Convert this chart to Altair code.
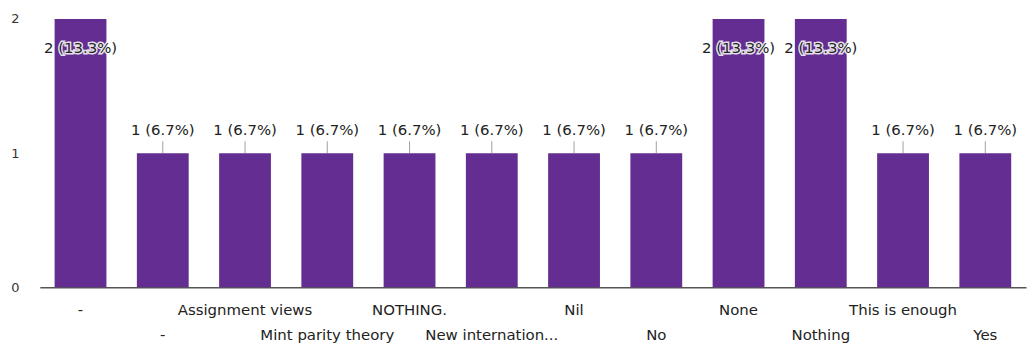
import altair as alt
import pandas as pd

categories = ["-", "- ", "Assignment views", "Mint parity theory", "NOTHING.",
              "New internation...", "Nil", "No", "None", "Nothing",
              "This is enough", "Yes"]
counts = [2, 1, 1, 1, 1, 1, 1, 1, 2, 2, 1, 1]
labels = ["2 (13.3%)", "1 (6.7%)", "1 (6.7%)", "1 (6.7%)", "1 (6.7%)",
          "1 (6.7%)", "1 (6.7%)", "1 (6.7%)", "2 (13.3%)", "2 (13.3%)",
          "1 (6.7%)", "1 (6.7%)"]
y_ticks = [0, 1, 2]

df = pd.DataFrame({"cat": categories, "count": counts, "label": labels})

FONT = "DejaVu Sans"
PURPLE = "#642d91"

x = alt.X("cat:N", sort=categories, title=None,
          scale=alt.Scale(paddingInner=0.37, paddingOuter=0.18),
          axis=alt.Axis(labelAngle=0, ticks=False, domain=True, domainColor="#555",
                        domainWidth=1.5, grid=False, labelFont=FONT, labelFontSize=15,
                        labelColor="#222", labelPadding=15, labelLineHeight=25,
                        labelBaseline="top", labelLimit=300, labelOverlap=False,
                        labelExpr="round(datum.index*11) % 2 ? ['', datum.label] : datum.label"))
y = alt.Y("count:Q", title=None,
          scale=alt.Scale(domain=[0, 2], nice=False),
          axis=alt.Axis(values=y_ticks, labelExpr="'' + round(datum.value)",
                        ticks=False, domain=False, grid=False,
                        labelFont=FONT, labelFontSize=13, labelColor="#333",
                        labelOverlap=False, labelFlush=False,
                        labelPadding=21, minExtent=32, maxExtent=32))

base = alt.Chart(df)

bars = base.mark_bar(color=PURPLE).encode(x=x, y=y)

low = base.transform_filter("datum.count < 2")
high = base.transform_filter("datum.count >= 2")

leader = low.mark_tick(orient="vertical", size=12, thickness=1, color="#777",
                       yOffset=-6).encode(x=x, y=y)

low_text = low.mark_text(font=FONT, fontSize=15, color="#222", dy=-23,
                         baseline="middle").encode(x=x, y=y, text="label:N")

high_halo = high.mark_text(font=FONT, fontSize=15, color="white", stroke="white",
                           strokeWidth=3, strokeOpacity=0.85, dy=29,
                           baseline="middle").encode(x=x, y=y, text="label:N")
high_text = high.mark_text(font=FONT, fontSize=15, color="#222", dy=29,
                           baseline="middle").encode(x=x, y=y, text="label:N")

chart = alt.layer(bars, leader, low_text, high_halo, high_text).properties(
    width=992, height=270,
    background="white",
    autosize=alt.AutoSizeParams(type="none"),
    padding={"left": 32, "top": 10, "right": 2, "bottom": 58},
).configure_view(stroke="transparent", strokeWidth=0)

chart.save("out.html", embed_options={"renderer": "svg", "actions": False})
